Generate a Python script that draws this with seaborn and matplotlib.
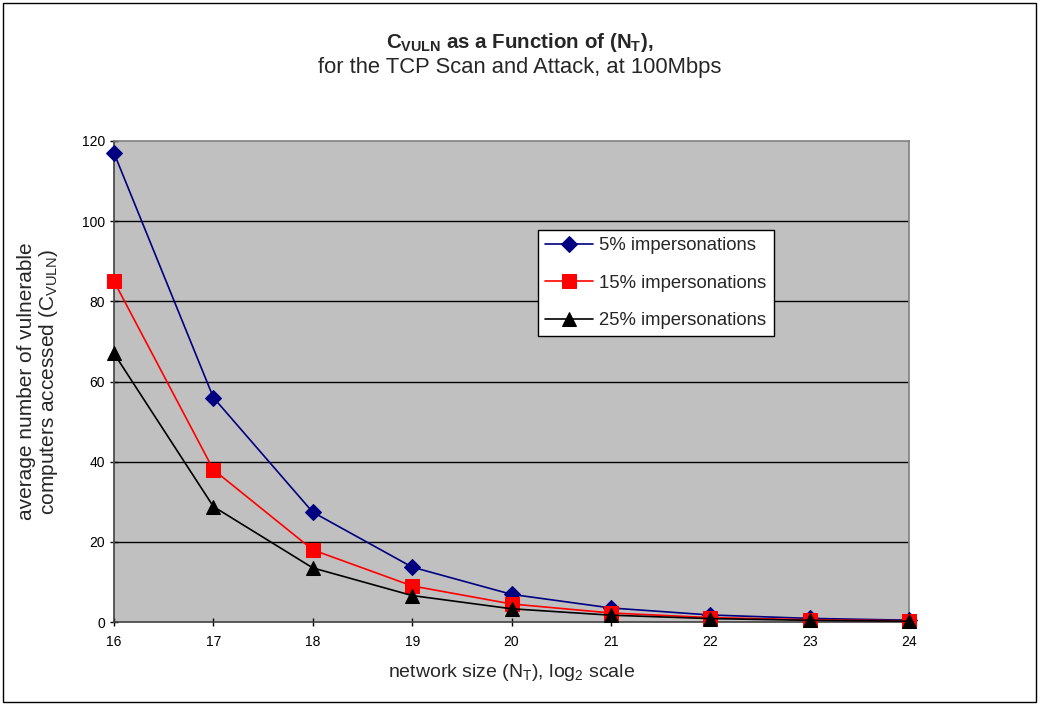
import matplotlib
matplotlib.use("Agg")
import matplotlib.pyplot as plt
import seaborn as sns
import pandas as pd
from matplotlib.patches import Rectangle

x_vals = [16, 17, 18, 19, 20, 21, 22, 23, 24]
s5 = [117, 56, 27.4, 13.7, 6.9, 3.5, 1.75, 0.9, 0.45]
s15 = [85, 38, 18, 9.0, 4.5, 2.25, 1.1, 0.56, 0.28]
s25 = [67, 28.8, 13.5, 6.6, 3.3, 1.7, 0.85, 0.42, 0.2]
series_names = ["5% impersonations", "15% impersonations", "25% impersonations"]
y_ticks = [0, 20, 40, 60, 80, 100, 120]

sns.set_theme(style="white")
plt.rcParams['font.family'] = ['Liberation Sans', 'DejaVu Sans']
plt.rcParams['mathtext.fontset'] = 'custom'
plt.rcParams['mathtext.rm'] = 'Liberation Sans'
plt.rcParams['mathtext.it'] = 'Liberation Sans'
plt.rcParams['mathtext.bf'] = 'Liberation Sans:bold'

df = pd.DataFrame({
    "x": x_vals * 3,
    "y": s5 + s15 + s25,
    "series": [series_names[0]] * 9 + [series_names[1]] * 9 + [series_names[2]] * 9,
})

fig = plt.figure(figsize=(10.4, 7.05), dpi=100)
ax = fig.add_axes([114/1040, 1 - 622/705, (909-114)/1040, (622-141)/705])
ax.set_facecolor("#C0C0C0")

palette = {series_names[0]: "#000080", series_names[1]: "#FF0000", series_names[2]: "#000000"}
markers = {series_names[0]: "D", series_names[1]: "s", series_names[2]: "^"}
sizes = {series_names[0]: 8.5, series_names[1]: 10, series_names[2]: 10.5}

for name in series_names:
    sub = df[df["series"] == name]
    sns.lineplot(data=sub, x="x", y="y", ax=ax, color=palette[name], marker=markers[name],
                 markersize=sizes[name], markeredgecolor=palette[name], linewidth=1.2,
                 label=name, clip_on=False, zorder=3)

ax.set_xlim(16, 24)
ax.set_ylim(0, 120)
ax.set_yticks(y_ticks)
ax.set_xticks(x_vals)
for t in y_ticks[1:-1]:
    ax.axhline(t, color="black", linewidth=1.0, zorder=1)

ax.tick_params(axis="both", which="both", direction="inout", length=6, width=1,
               labelsize=10, colors="black", left=True, bottom=True)
ax.tick_params(axis="x", pad=6)
for side in ["left", "bottom"]:
    ax.spines[side].set_color("#404040")
    ax.spines[side].set_linewidth(1.2)
for side in ["top", "right"]:
    ax.spines[side].set_color("#808080")
    ax.spines[side].set_linewidth(1.2)

ax.set_xlabel(r"network size (N$_{\mathrm{T}}$), log$_{\mathrm{2}}$ scale", fontsize=14, labelpad=10)
ax.set_ylabel("average number of vulnerable\n" + r"computers accessed (C$_{\mathrm{VULN}}$)",
              fontsize=15, labelpad=16, linespacing=1.0)

fig.text(0.5, 1 - 42/705, r"$\mathbf{C_{VULN}}$ as a Function of (N$_{\mathbf{T}}$),",
         ha="center", va="center", fontsize=14.8, fontweight="bold")
fig.text(0.5, 1 - 68/705, "for the TCP Scan and Attack, at 100Mbps",
         ha="center", va="center", fontsize=15.8)

leg = ax.legend(loc="upper left", bbox_to_anchor=((538-114)/795, (622-230)/481),
                frameon=True, fancybox=False, fontsize=13.3, borderpad=0.4,
                labelspacing=1.1, handlelength=2.6, handletextpad=0.3, borderaxespad=0)
leg.get_frame().set_edgecolor("black")
leg.get_frame().set_facecolor("white")
leg.get_frame().set_linewidth(1.0)
leg.get_frame().set_alpha(1)

fig.patches.append(Rectangle((3/1040, 3/705), 1 - 7/1040, 1 - 6/705, transform=fig.transFigure,
                             fill=False, edgecolor="black", linewidth=1))

fig.savefig("out.png", dpi=100, facecolor="white")
